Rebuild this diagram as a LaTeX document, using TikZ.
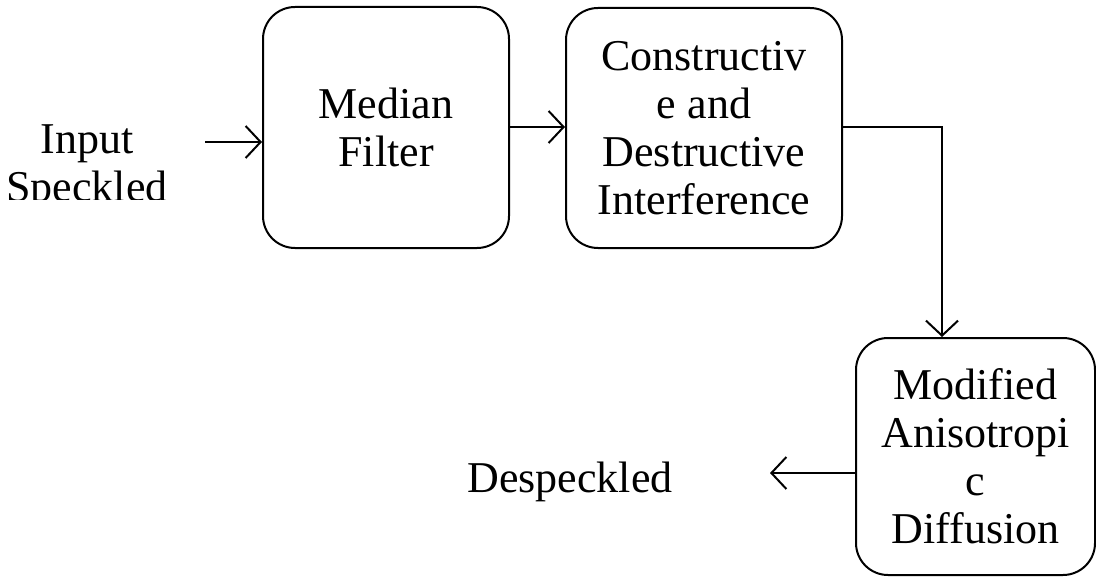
\documentclass[tikz,border=0pt]{standalone}
\usepackage{fontspec}
\setmainfont{Liberation Serif}
\usetikzlibrary{positioning,arrows.meta}

\begin{document}
\begin{tikzpicture}[x=0.5pt, y=-0.5pt,
    block/.style={draw, line width=1pt, rounded corners=16pt, align=center,
        font=\fontsize{22}{24}\selectfont, inner sep=0pt},
    label text/.style={align=center, font=\fontsize{22}{24}\selectfont, inner sep=0pt},
    flow/.style={line width=1pt, -{Straight Barb[length=7.5pt, width=16pt, line width=1pt]}}
]
    \useasboundingbox (0,0) rectangle (1096,577);

    \node[block, minimum width=123pt, minimum height=120.5pt] (median filter) at (386,127.5) {Median\\Filter};
    \node[block, minimum width=138pt, minimum height=120pt] (interference) at (704,128) {Constructiv\\e and\\Destructive\\Interference};
    \node[block, minimum width=119.5pt, minimum height=118.5pt] (anisotropic diffusion) at (975.5,456.5) {Modified\\Anisotropi\\c\\Diffusion};

    % input text is cut off at the bottom
    \begin{scope}
        \clip (0,0) rectangle (250,200);
        \node[label text] (input speckled) at (87,168) {Input\\Speckled};
    \end{scope}
    \node[label text] (despeckled) at (570,482) {Despeckled};

    \coordinate (input end) at (205,142);
    \coordinate (output end) at (770,473);

    \draw[flow] (input end) -- (input end -| median filter.west);
    \draw[flow] (median filter.east |- 0,127) -- (interference.west |- 0,127);
    \draw[flow] (interference.east |- 0,127) -| (anisotropic diffusion.north -| 942,0);
    \draw[flow] (anisotropic diffusion.west |- output end) -- (output end);
\end{tikzpicture}
\end{document}
